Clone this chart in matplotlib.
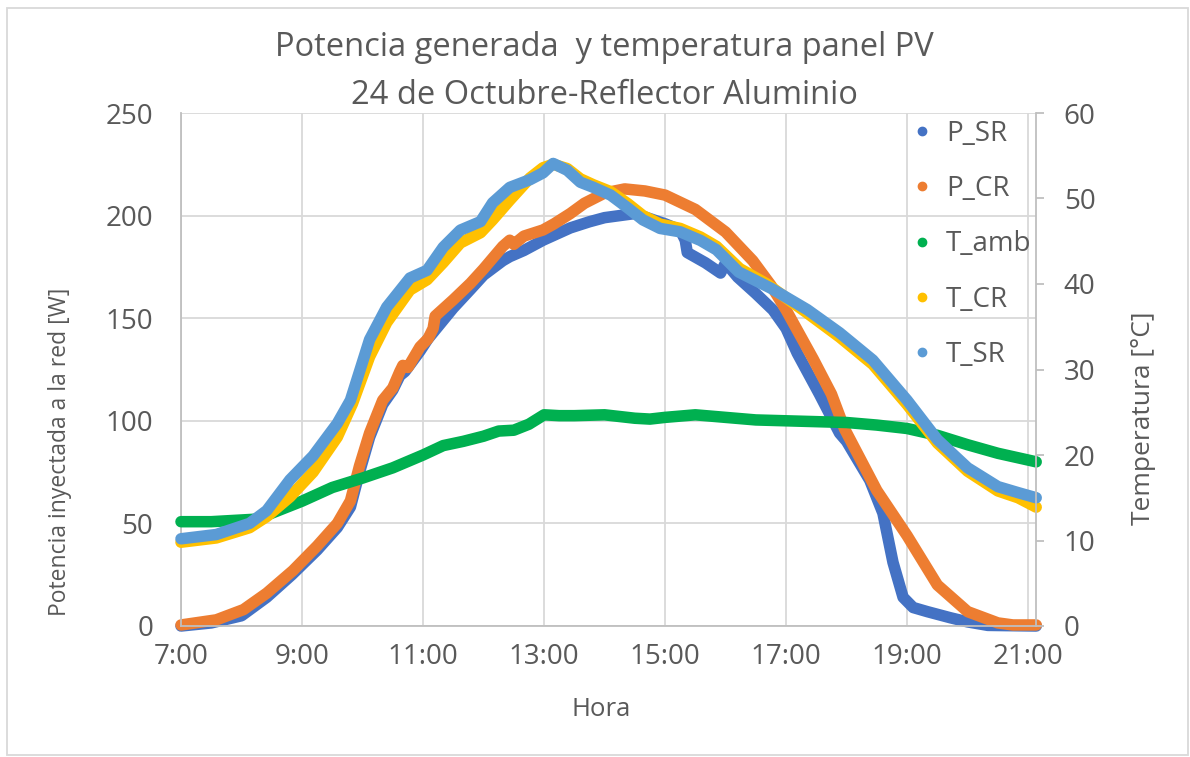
import matplotlib
matplotlib.use("Agg")
import matplotlib.pyplot as plt
from matplotlib.lines import Line2D
from matplotlib.patches import Rectangle

plt.rcParams['font.family'] = ['Open Sans', 'DejaVu Sans']

# ================================================================
# DATA
# ================================================================
t_psr = ["7:00", "7:30", "8:00", "8:25", "8:50", "9:15", "9:35", "9:48", "9:57", "10:07",
         "10:20", "10:30", "10:37", "10:42", "10:57", "11:05", "11:15", "11:30", "11:47", "12:00",
         "12:19", "12:26", "12:40", "12:59", "13:26", "13:45", "14:00", "14:15", "14:30", "15:00",
         "15:15", "15:20", "15:22", "15:40", "15:55", "16:00", "16:12", "16:30", "16:47", "17:00",
         "17:11", "17:33", "17:53", "18:00", "18:23", "18:36", "18:46", "18:56", "19:06", "19:20",
         "19:43", "20:00", "20:20", "21:08"]
p_sr = [0, 1.5, 5, 14, 25, 37, 48, 58, 75, 92,
        108, 115, 122, 124, 134, 140, 146, 155, 164, 171,
        178, 180, 183, 188, 194, 197, 199, 200, 201, 196,
        193, 188, 182, 177, 172, 177, 170, 162, 154, 145,
        133, 113, 94, 90, 71, 55, 31, 14, 9, 7,
        4, 2, 0.3, 0]

t_pcr = ["7:00", "7:35", "8:02", "8:25", "8:51", "9:15", "9:35", "9:48", "9:57", "10:07",
         "10:20", "10:30", "10:37", "10:40", "10:45", "10:57", "11:05", "11:10", "11:12", "11:30",
         "11:47", "12:00", "12:19", "12:26", "12:30", "12:40", "12:59", "13:10", "13:26", "13:40",
         "14:00", "14:20", "14:40", "15:00", "15:30", "16:00", "16:27", "16:45", "17:00", "17:27",
         "17:45", "17:58", "18:30", "19:00", "19:30", "20:00", "20:30", "20:45", "21:08"]
p_cr = [0.5, 3, 8, 16, 27, 39, 50, 61, 78, 94,
        110, 116, 124, 127, 126, 136, 140, 145, 151, 159,
        167, 174, 185, 188, 186, 190, 193, 196, 201, 206,
        211, 213, 212, 210, 203, 192, 178, 166, 154, 130,
        113, 96, 66, 44, 20, 7, 1.5, 0.5, 0.5]

t_tamb = ["7:00", "7:30", "8:00", "8:15", "8:30", "9:00", "9:30", "10:00", "10:30", "11:00",
          "11:20", "11:40", "12:00", "12:15", "12:30", "12:45", "13:00", "13:15", "13:30", "14:00",
          "14:30", "14:45", "15:00", "15:30", "16:00", "16:30", "17:00", "17:30", "18:00", "18:30",
          "19:00", "19:30", "20:00", "20:30", "21:08"]
t_amb = [12.2, 12.2, 12.4, 12.5, 13.2, 14.6, 16.2, 17.3, 18.5, 20.0,
         21.1, 21.6, 22.2, 22.8, 22.9, 23.6, 24.7, 24.6, 24.6, 24.7,
         24.3, 24.2, 24.4, 24.7, 24.4, 24.1, 24.0, 23.9, 23.8, 23.5,
         23.1, 22.3, 21.2, 20.2, 19.2]

t_tcr = ["7:00", "7:35", "8:08", "8:25", "8:48", "9:11", "9:35", "9:50", "10:07", "10:24",
         "10:47", "11:04", "11:20", "11:37", "11:57", "12:09", "12:26", "12:46", "12:59", "13:09",
         "13:23", "13:36", "13:49", "14:06", "14:23", "14:38", "14:55", "15:15", "15:35", "15:51",
         "16:14", "16:41", "17:21", "17:53", "18:26", "19:00", "19:30", "20:00", "20:30", "20:50",
         "21:08"]
t_cr = [9.8, 10.3, 11.5, 12.8, 15.1, 18.0, 22.1, 26.0, 31.5, 35.5,
        39.3, 40.5, 42.5, 44.8, 46.0, 47.5, 49.8, 52.4, 53.6, 54.0,
        53.5, 52.3, 51.6, 50.8, 49.4, 48.0, 47.0, 46.5, 45.5, 44.4,
        41.8, 40.0, 36.6, 33.8, 30.6, 25.9, 21.4, 18.1, 15.8, 15.0,
        13.9]

t_tsr = ["7:00", "7:35", "8:08", "8:25", "8:48", "9:11", "9:35", "9:48", "10:07", "10:24",
         "10:47", "11:04", "11:20", "11:37", "11:57", "12:09", "12:26", "12:46", "12:59", "13:09",
         "13:23", "13:36", "13:49", "14:06", "14:23", "14:38", "14:55", "15:15", "15:35", "15:51",
         "16:13", "16:45", "17:21", "17:53", "18:26", "19:00", "19:30", "20:00", "20:30", "20:50",
         "21:08"]
t_sr = [10.2, 10.7, 12.0, 13.5, 17.1, 19.9, 23.7, 26.4, 33.5, 37.3,
        40.7, 41.6, 44.3, 46.3, 47.3, 49.5, 51.3, 52.2, 53.0, 54.1,
        53.3, 51.9, 51.3, 50.4, 48.9, 47.5, 46.5, 46.1, 45.1, 44.0,
        41.4, 39.5, 37.0, 34.3, 31.1, 26.4, 21.8, 18.5, 16.3, 15.6,
        15.0]

x_ticks = [7, 9, 11, 13, 15, 17, 19, 21]
x_ticklabels = ["7:00", "9:00", "11:00", "13:00", "15:00", "17:00", "19:00", "21:00"]


def to_hours(lst):
    out = []
    for s in lst:
        h, m = s.split(":")
        out.append(int(h) + int(m) / 60.0)
    return out


# ================================================================
# PLOTTING
# ================================================================
txt = '#595959'
grid_c = '#D9D9D9'
spine_c = '#BFBFBF'

colors = {'P_SR': '#4472C4', 'P_CR': '#ED7D31', 'T_amb': '#00B050',
          'T_CR': '#FFC000', 'T_SR': '#5B9BD5'}

fig = plt.figure(figsize=(11.9, 7.57), dpi=100)
ax = fig.add_axes([181/1190, 1 - 626/757, (1036-181)/1190, (626-113)/757])
ax2 = ax.twinx()

style = dict(lw=8.3, solid_capstyle='round', solid_joinstyle='round', clip_on=False)
ax.plot(to_hours(t_psr), p_sr, color=colors['P_SR'], **style)
ax.plot(to_hours(t_pcr), p_cr, color=colors['P_CR'], **style)
ax2.plot(to_hours(t_tamb), t_amb, color=colors['T_amb'], **style)
ax2.plot(to_hours(t_tcr), t_cr, color=colors['T_CR'], **style)
ax2.plot(to_hours(t_tsr), t_sr, color=colors['T_SR'], **style)

ax.set_xlim(7, 21.13)
ax.set_ylim(0, 250)
ax2.set_ylim(0, 60)
ax.set_xticks(x_ticks)
ax.set_xticklabels(x_ticklabels)
ax.set_yticks(range(0, 251, 50))
ax2.set_yticks(range(0, 61, 10))

ax.grid(True, color=grid_c, lw=1.3)
ax.set_axisbelow(True)
ax2.grid(False)

for a in (ax, ax2):
    for s in a.spines.values():
        s.set_visible(False)
ax.spines['left'].set_visible(True)
ax.spines['left'].set_color(spine_c)
ax.spines['bottom'].set_visible(True)
ax.spines['bottom'].set_color(spine_c)
ax2.spines['right'].set_visible(True)
ax2.spines['right'].set_color(spine_c)
for s in ('left', 'bottom'):
    ax.spines[s].set_linewidth(1.3)
ax2.spines['right'].set_linewidth(1.3)

ax.tick_params(axis='y', length=0, pad=20, labelsize=20, labelcolor=txt)
ax.tick_params(axis='x', length=0, pad=12, labelsize=20, labelcolor=txt)
ax2.tick_params(axis='y', length=6, width=1.3, color=spine_c, pad=14, labelsize=20, labelcolor=txt)

fig.text(604/1190, 1 - 48/757, "Potencia generada  y temperatura panel PV",
         ha='center', va='center', fontsize=23.5, color=txt)
fig.text(604/1190, 1 - 96/757, "24 de Octubre-Reflector Aluminio",
         ha='center', va='center', fontsize=23.5, color=txt)
fig.text(60/1190, 1 - 452/757, "Potencia inyectada a la red [W]",
         rotation=90, ha='center', va='center', fontsize=16.5, color=txt)
fig.text(1143/1190, 1 - 418/757, "Temperatura [°C]",
         rotation=90, ha='center', va='center', fontsize=19, color=txt)
fig.text(601/1190, 1 - 709/757, "Hora", ha='center', va='center', fontsize=18.5, color=txt)

handles = [Line2D([], [], ls='none', marker='o', ms=6, color=colors[k]) for k in colors]
leg = ax2.legend(handles, list(colors.keys()), loc='upper left',
                 bbox_to_anchor=((914-181)/855, (626-120)/513), frameon=False,
                 fontsize=20, handlelength=0.6, handletextpad=0.55, labelspacing=0.98,
                 borderaxespad=0, borderpad=0)
for t in leg.get_texts():
    t.set_color(txt)

fig.patches.append(Rectangle((7/1190, 0.002), 1 - 9/1190, 1 - 8/757 - 0.002,
                             transform=fig.transFigure, fill=False,
                             edgecolor=grid_c, lw=1.3))

fig.savefig("out.png", dpi=100)
